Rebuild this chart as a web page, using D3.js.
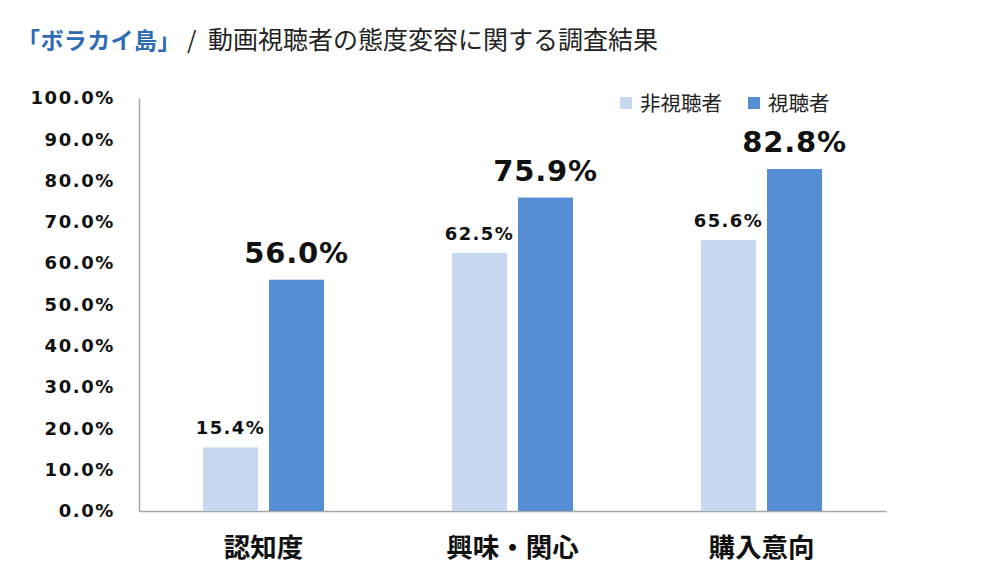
<!DOCTYPE html>
<html><head><meta charset="utf-8">
<script src="https://cdn.jsdelivr.net/npm/d3@7"></script>
<style>body{margin:0;background:#fff;}svg{display:block;}</style>
</head><body>
<svg id="c" width="982" height="572"></svg>
<script>
const categories = ["認知度", "興味・関心", "購入意向"];
const seriesNames = ["非視聴者", "視聴者"];
const nonViewers = [15.4, 62.5, 65.6];
const viewers = [56.0, 75.9, 82.8];
const yTicks = [0, 10, 20, 30, 40, 50, 60, 70, 80, 90, 100];
const colors = ["#c6d9f0", "#558ed5"];
const titleBrand = "「ボラカイ島」";
const titleMain = "動画視聴者の態度変容に関する調査結果";

const svg = d3.select("#c");
const m = {left: 139, right: 886, top: 98, bottom: 511};
const num = "'DejaVu Sans', Verdana, sans-serif";
const cjk = "'Noto Sans CJK JP', 'Noto Sans', sans-serif";

const x0 = d3.scaleBand().domain(categories).range([m.left, m.right]).padding(0);
const y = d3.scaleLinear().domain([0, 100]).range([m.bottom, m.top]);
const bw = 55, gap = 11;
const x1 = d3.scaleOrdinal().domain([0, 1]).range([-(bw + gap) / 2 - bw / 2, (gap) / 2]);

// title
svg.append("text").attr("x", 17).attr("y", 49).style("font-family", cjk)
  .style("fill", "#2e6bb5").style("font-weight", "bold").style("font-size", "23px")
  .style("letter-spacing", "0.4px").text(titleBrand);
svg.append("text").attr("x", 187).attr("y", 49).style("font-family", cjk)
  .style("fill", "#222").style("font-size", "24px").text("/");
svg.append("text").attr("x", 208).attr("y", 49).style("font-family", cjk)
  .style("fill", "#222").style("font-size", "25px").text(titleMain);

// y axis
const ya = svg.append("g").attr("transform", `translate(${m.left},0)`)
  .call(d3.axisLeft(y).tickValues(yTicks).tickSize(0).tickPadding(24).tickFormat(d => d.toFixed(1) + "%"));
ya.select(".domain").attr("stroke", "#a6a6a6").attr("stroke-width", 1.5);
ya.selectAll("text").style("font-family", num).style("font-weight", "bold").style("font-size", "18px")
  .style("letter-spacing", "1.6px").attr("fill", "#111");

// x axis
const xa = svg.append("g").attr("transform", `translate(0,${m.bottom})`)
  .call(d3.axisBottom(x0).tickSize(0).tickPadding(27));
xa.select(".domain").attr("stroke", "#a6a6a6").attr("stroke-width", 1.5);
xa.selectAll("text").style("font-family", cjk).style("font-weight", "bold").style("font-size", "26.5px").attr("fill", "#111");

// bars
const series = [nonViewers, viewers];
series.forEach((vals, si) => {
  svg.append("g").selectAll("rect").data(vals).join("rect")
    .attr("x", (d, i) => x0(categories[i]) + x0.bandwidth() / 2 + x1(si))
    .attr("y", d => y(d)).attr("width", bw).attr("height", d => m.bottom - y(d))
    .attr("fill", colors[si]);
  svg.append("g").selectAll("text").data(vals).join("text")
    .attr("x", (d, i) => x0(categories[i]) + x0.bandwidth() / 2 + x1(si) + bw / 2)
    .attr("y", d => y(d) - (si === 0 ? 13 : 17))
    .attr("text-anchor", "middle")
    .style("font-family", num).style("font-weight", "bold")
    .style("font-size", si === 0 ? "18px" : "29px")
    .style("letter-spacing", si === 0 ? "1.4px" : "0.8px")
    .attr("fill", "#111")
    .text(d => d.toFixed(1) + "%");
});

// legend
const lx = [620, 748];
seriesNames.forEach((n, i) => {
  svg.append("rect").attr("x", lx[i]).attr("y", 97).attr("width", 12).attr("height", 12).attr("fill", colors[i]);
  svg.append("text").attr("x", lx[i] + 20).attr("y", 111).style("font-family", cjk).style("font-size", "20.5px")
    .attr("fill", "#222").text(n);
});
</script>
</body></html>
